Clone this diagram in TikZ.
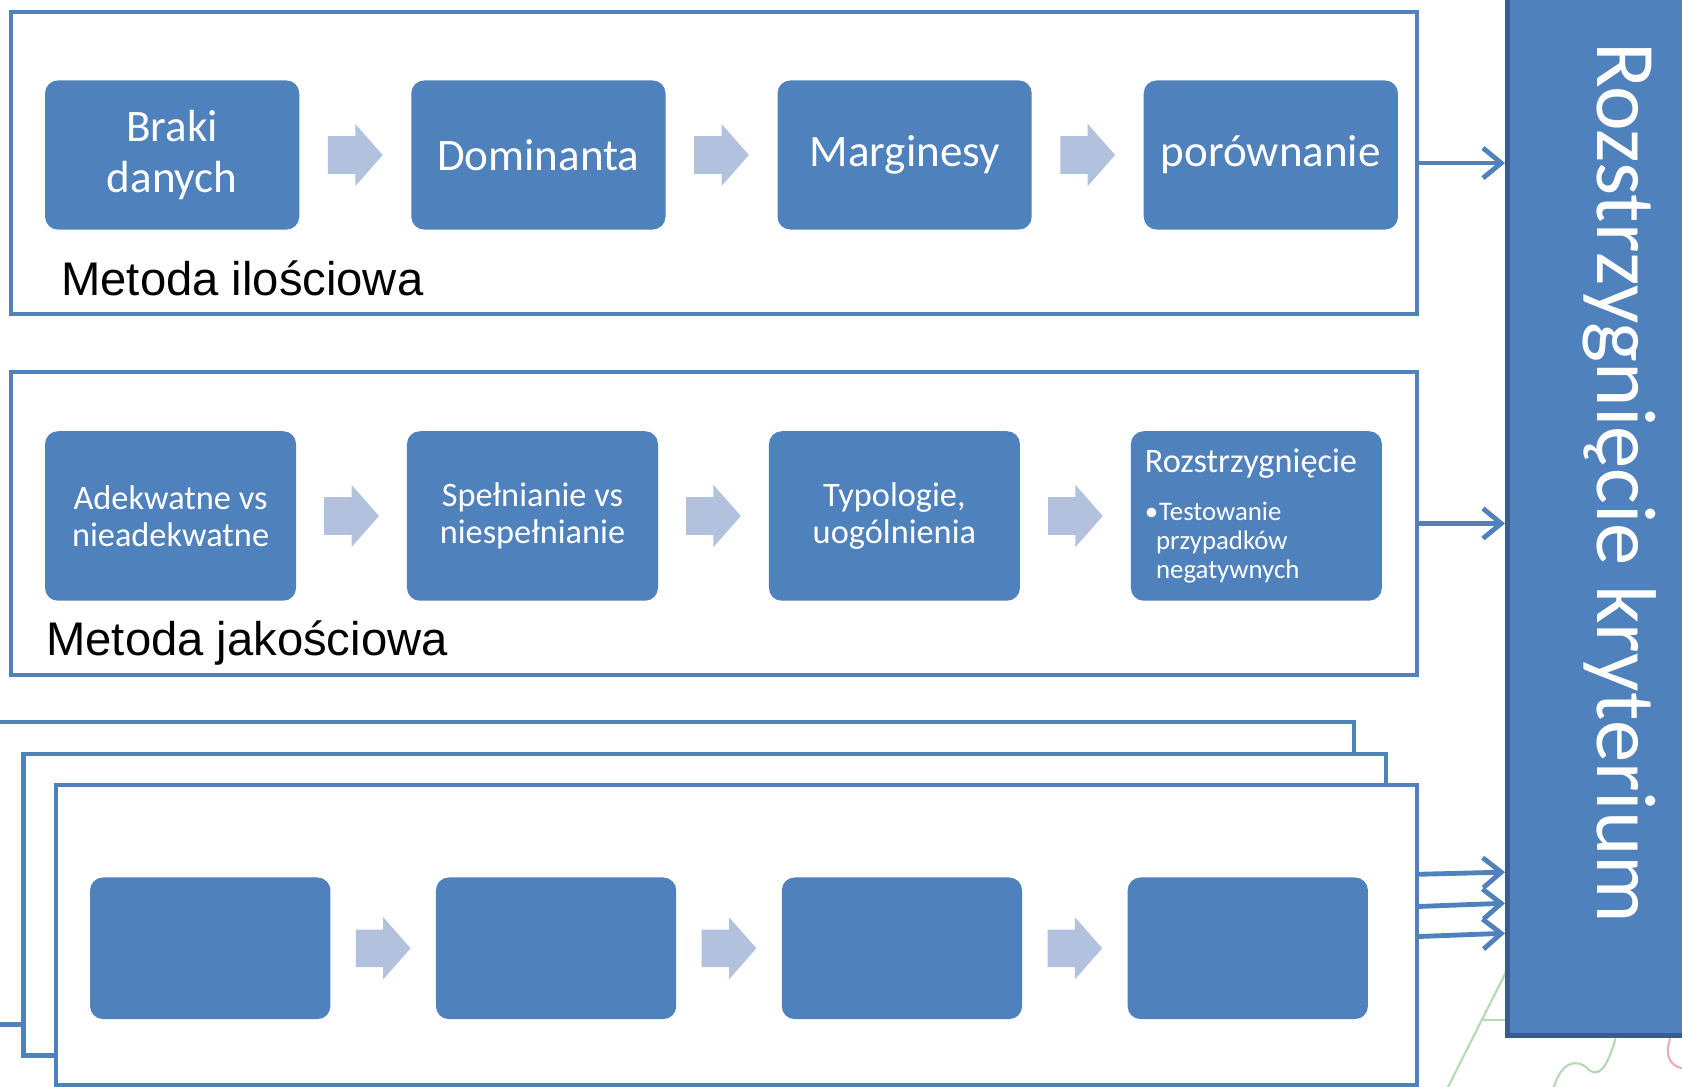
\documentclass[tikz,border=0pt]{standalone}
\usepackage{fontspec}
\setmainfont{Carlito}
\newfontfamily\labelfont{Liberation Sans}
\usetikzlibrary{positioning,calc,arrows.meta}

\definecolor{boxblue}{HTML}{4F81BD}
\definecolor{rimblue}{HTML}{385D8A}
\definecolor{paleblue}{HTML}{B2C1DE}
\definecolor{faintgreen}{HTML}{B5D8B5}
\definecolor{faintred}{HTML}{E2B0B8}

\tikzset{
  frame/.style={draw=boxblue, line width=4pt, fill=white, inner sep=0pt},
  stepbox/.style={fill=boxblue, rounded corners=12pt, text=white, align=center, inner sep=0pt},
  rowone/.style={stepbox, minimum width=237pt, minimum height=139pt, font=\fontsize{42}{47}\selectfont},
  rowtwo/.style={stepbox, minimum width=234pt, minimum height=158pt, font=\fontsize{32}{35}\selectfont},
  rowthree/.style={stepbox, minimum width=224pt, minimum height=132pt},
  methodlabel/.style={anchor=base west, inner sep=0pt, font=\labelfont\fontsize{44}{50}\selectfont},
  link/.style={draw=boxblue, line width=4.5pt, line cap=round, line join=round,
    -{Straight Barb[length=17pt, width=28pt]}},
  pics/flowarrow/.style={code={
    \fill[paleblue] (-25.5,-17.5) -- (0,-17.5) -- (0,-29) -- (25.5,0)
      -- (0,29) -- (0,17.5) -- (-25.5,17.5) -- cycle;}}
}

\begin{document}
\begin{tikzpicture}[x=1pt, y=-1pt]
  \useasboundingbox (0,0) rectangle (1568,1013);

  % faint slide background
  \begin{scope}[line width=2pt]
    \draw[faintgreen] (1349,1015) -- (1405,904);
    \draw[faintgreen] (1382,951) -- (1404,951);
    \draw[faintgreen] (1448,1015) .. controls (1455,990) and (1470,985) .. (1482,998)
      .. controls (1492,1005) and (1500,990) .. (1506,968);
    \draw[faintred] (1557,968) .. controls (1551,985) and (1558,995) .. (1570,996);
    \draw[faintgreen] (0,903) -- (22,911);
  \end{scope}

  % frames
  \node[frame, minimum width=1311pt, minimum height=282pt] (ilosc) at (665.5,152) {};
  \node[frame, minimum width=1311pt, minimum height=282pt] (jakosc) at (665.5,488) {};
  \node[frame, minimum width=1302pt, minimum height=282pt] (tyl) at (611,814) {};
  \node[frame, minimum width=1270pt, minimum height=281pt] (srodek) at (657,843.5) {};
  \node[frame, minimum width=1269pt, minimum height=280pt] (przod) at (686.5,872) {};

  % metoda ilosciowa
  \node[rowone] (braki) at (160.5,144.5) {Braki\\danych};
  \node[rowone, right=104pt of braki] (dominanta) {Dominanta};
  \node[rowone, right=104pt of dominanta] (marginesy) {Marginesy};
  \node[rowone, right=104pt of marginesy] (porownanie) {porównanie};
  \pic at ($(braki.east)!.5!(dominanta.west)$) {flowarrow};
  \pic at ($(dominanta.east)!.5!(marginesy.west)$) {flowarrow};
  \pic at ($(marginesy.east)!.5!(porownanie.west)$) {flowarrow};
  \node[methodlabel] (ilosclabel) at (57,275) {Metoda ilościowa};

  % metoda jakosciowa
  \node[rowtwo] (adekwatne) at (159,481) {Adekwatne vs\\nieadekwatne};
  \node[rowtwo, right=103pt of adekwatne] (spelnianie) {Spełnianie vs\\niespełnianie};
  \node[rowtwo, right=103pt of spelnianie] (typologie) {Typologie,\\uogólnienia};
  \node[rowtwo, right=103pt of typologie, align=left, text width=208pt] (rozstrz)
    {Rozstrzygnięcie\par\vspace{18pt}%
     \fontsize{25}{27}\selectfont
     •\kern1pt Testowanie\par
     \hspace*{10.5pt}przypadków\par
     \hspace*{10.5pt}negatywnych\par};
  \pic at ($(adekwatne.east)!.5!(spelnianie.west)$) {flowarrow};
  \pic at ($(spelnianie.east)!.5!(typologie.west)$) {flowarrow};
  \pic at ($(typologie.east)!.5!(rozstrz.west)$) {flowarrow};
  \node[methodlabel] (jakosclabel) at (43,611) {Metoda jakościowa};

  % empty steps
  \node[rowthree] (pusty1) at (196,884) {};
  \node[rowthree, right=98pt of pusty1] (pusty2) {};
  \node[rowthree, right=98pt of pusty2] (pusty3) {};
  \node[rowthree, right=98pt of pusty3] (pusty4) {};
  \pic at ($(pusty1.east)!.5!(pusty2.west)$) {flowarrow};
  \pic at ($(pusty2.east)!.5!(pusty3.west)$) {flowarrow};
  \pic at ($(pusty3.east)!.5!(pusty4.west)$) {flowarrow};

  % kryterium
  \node[draw=rimblue, fill=boxblue, line width=5pt, inner sep=0pt,
    minimum width=214.5pt, minimum height=995.5pt] (krit) at (1512.75,467.75) {};
  \node[rotate=-90, anchor=base west, inner sep=0pt, text=white,
    font=\fontsize{79}{80}\selectfont] (kritlabel) at (1489,39) {Rozstrzygnięcie kryterium};

  \draw[link] (ilosc.east) -- (ilosc.east -| krit.west);
  \draw[link] (jakosc.east) -- (jakosc.east -| krit.west);
  \draw[link] ($(przod.east)+(0,-57)$) -- (krit.west |- 0,813);
  \draw[link] ($(przod.east)+(0,-27)$) -- (krit.west |- 0,842);
  \draw[link] ($(przod.east)+(0,1)$) -- (krit.west |- 0,870);
\end{tikzpicture}
\end{document}
